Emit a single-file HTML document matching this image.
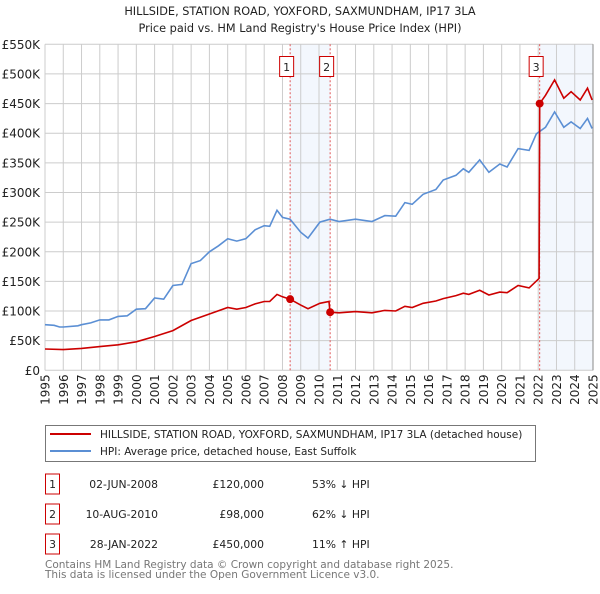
<!DOCTYPE html>
<html><head><meta charset="utf-8"><style>
body{margin:0;background:#fff;font-family:"DejaVu Sans","Liberation Sans",sans-serif;}
svg text{font-family:"DejaVu Sans","Liberation Sans",sans-serif;}
</style></head><body>
<svg id="c" width="600" height="590" xmlns="http://www.w3.org/2000/svg">
<text x="300" y="15" text-anchor="middle" font-size="11.3" fill="#222">HILLSIDE, STATION ROAD, YOXFORD, SAXMUNDHAM, IP17 3LA</text>
<text x="300" y="32" text-anchor="middle" font-size="11.3" fill="#222">Price paid vs. HM Land Registry's House Price Index (HPI)</text>
<g id="grid"></g>
<g id="marks"></g>
<g>
<rect x="45.5" y="425.5" width="490" height="36" fill="#fff" stroke="#777"/>
<line x1="50" y1="434" x2="91" y2="434" stroke="#cc0000" stroke-width="2"/>
<text x="100" y="438" font-size="10.5" fill="#222">HILLSIDE, STATION ROAD, YOXFORD, SAXMUNDHAM, IP17 3LA (detached house)</text>
<line x1="50" y1="451" x2="91" y2="451" stroke="#5b8fd4" stroke-width="2"/>
<text x="100" y="455" font-size="10.5" fill="#222">HPI: Average price, detached house, East Suffolk</text>
</g>
<g id="table" font-size="10.8" fill="#222"></g>
<text x="45" y="568" font-size="10.5" fill="#777">Contains HM Land Registry data © Crown copyright and database right 2025.</text>
<text x="45" y="578" font-size="10.5" fill="#777">This data is licensed under the Open Government Licence v3.0.</text>
</svg>
<script>
const hpiYears=[1995,1995.5,1995.8,1996,1996.8,1997,1997.5,1998,1998.5,1999,1999.5,2000,2000.5,2001,2001.5,2002,2002.5,2003,2003.5,2004,2004.5,2005,2005.5,2006,2006.5,2007,2007.3,2007.7,2008,2008.42,2009,2009.4,2010.05,2010.6,2011.1,2012,2012.9,2013.6,2014.2,2014.7,2015.1,2015.7,2016.4,2016.8,2017.5,2017.9,2018.2,2018.8,2019.3,2019.9,2020.3,2020.9,2021.5,2021.9,2022.4,2022.9,2023.4,2023.8,2024.3,2024.7,2024.95];
const hpiValues=[77,76,73,73,75,77,80,85,85,91,92,103,104,122,120,143,145,180,185,200,210,222,218,222,237,244,243,270,258,255,233,223,250,255,251,255,251,261,260,283,280,297,305,321,329,340,334,355,334,348,343,374,371,399,410,436,410,419,408,425,408];
const ppYears=[1995,1996,1997,1998,1999,2000,2001,2002,2003,2004,2005,2005.5,2006,2006.5,2007,2007.3,2007.7,2008,2008.42,2009,2009.4,2010.05,2010.55,2010.6,2011.1,2012,2012.9,2013.6,2014.2,2014.7,2015.1,2015.7,2016.4,2016.8,2017.5,2017.9,2018.2,2018.8,2019.3,2019.9,2020.3,2020.9,2021.5,2022.05,2022.08,2022.4,2022.9,2023.4,2023.8,2024.3,2024.7,2024.95];
const ppValues=[36,35,37,40,43,48,57,67,84,95,106,103,106,112,116,116,128,124,120,110,104,113,116,98,97,99,97,101,100,108,106,113,117,121,126,130,128,135,127,132,131,143,139,155,450,464,490,459,470,456,476,456];
const saleYears=[2008.42,2010.61,2022.08];
const saleValues=[120,98,450];
const saleLabels=["1","2","3"];
const saleDates=["02-JUN-2008","10-AUG-2010","28-JAN-2022"];
const salePrices=["£120,000","£98,000","£450,000"];
const saleDiffs=["53% ↓ HPI","62% ↓ HPI","11% ↑ HPI"];
const yTicks=[0,50,100,150,200,250,300,350,400,450,500,550];
const yTickLabels=["£0","£50K","£100K","£150K","£200K","£250K","£300K","£350K","£400K","£450K","£500K","£550K"];
const xTicks=[1995,1996,1997,1998,1999,2000,2001,2002,2003,2004,2005,2006,2007,2008,2009,2010,2011,2012,2013,2014,2015,2016,2017,2018,2019,2020,2021,2022,2023,2024,2025];

const X0=45,X1=593,Y0=370.3,Y1=44.3;
const sx=y=>X0+(y-1995)/30*(X1-X0);
const sy=v=>Y0-(v/550)*(Y0-Y1);
const NS="http://www.w3.org/2000/svg";
function mk(tag,attrs,parent){const e=document.createElementNS(NS,tag);for(const k in attrs)e.setAttribute(k,attrs[k]);parent.appendChild(e);return e;}
const grid=document.getElementById('grid'),marks=document.getElementById('marks'),table=document.getElementById('table');

let sh=mk('rect',{x:sx(saleYears[0]),y:Y1,width:sx(saleYears[1])-sx(saleYears[0]),height:Y0-Y1,fill:'#eef3fc',opacity:0.7},grid);


let sh2=mk('rect',{x:sx(saleYears[2]),y:Y1,width:X1-sx(saleYears[2]),height:Y0-Y1,fill:'#eef3fc',opacity:0.7},grid);



yTicks.forEach((v,i)=>{
  const l=mk('line',{x1:X0,x2:X1,y1:sy(v),y2:sy(v),stroke:'#ccc','stroke-width':1},grid);
  
  
  const t=mk('text',{x:X0-5,y:sy(v)+4.5,'text-anchor':'end','font-size':12,fill:'#222'},grid);
  t.textContent=yTickLabels[i];
  
  
});
xTicks.forEach(y=>{
  const l=mk('line',{x1:sx(y),x2:sx(y),y1:Y1,y2:Y0,stroke:'#ccc','stroke-width':1},grid);
  
  
  const t=mk('text',{x:0,y:0,'text-anchor':'end','font-size':12,fill:'#222',transform:`translate(${sx(y)+4.5},${Y0+4}) rotate(-90)`},grid);
  t.textContent=y;
  
  
});
const ax=mk('line',{x1:X1,x2:X1,y1:Y1,y2:Y0,stroke:'#888','stroke-width':1},grid);



saleYears.forEach((y,i)=>{
  const l=mk('line',{x1:sx(y),x2:sx(y),y1:Y1,y2:Y0,stroke:'#e05555','stroke-width':1,'stroke-dasharray':'2,2'},marks);
  
  
  const r=mk('rect',{x:sx(y)-10.5,y:56.5,width:14,height:20,fill:'#fff',stroke:'#cc0000'},marks);
  
  
  const t=mk('text',{x:sx(y)-3.5,y:71,'text-anchor':'middle','font-size':11,fill:'#222'},marks);
  t.textContent=saleLabels[i];
  
  
});

const hp=mk('path',{d:hpiYears.map((y,i)=>(i?'L':'M')+sx(y).toFixed(1)+','+sy(hpiValues[i]).toFixed(1)).join(''),fill:'none',stroke:'#5b8fd4','stroke-width':1.6},marks);


const pp=mk('path',{d:ppYears.map((y,i)=>(i?'L':'M')+sx(y).toFixed(1)+','+sy(ppValues[i]).toFixed(1)).join(''),fill:'none',stroke:'#cc0000','stroke-width':1.6},marks);


saleYears.forEach((y,i)=>{
  const c=mk('circle',{cx:sx(y),cy:sy(saleValues[i]),r:4,fill:'#cc0000'},marks);
  
  
});

saleLabels.forEach((lab,i)=>{
  const cy=484+i*30;
  const r=mk('rect',{x:45.5,y:cy-10,width:14,height:20,fill:'#fff',stroke:'#cc0000'},table);
  
  
  const texts=[[52.5,'middle',lab,'table-row-number'],[158,'end',saleDates[i],'table-row-date'],[264,'end',salePrices[i],'table-row-price'],[312,'start',saleDiffs[i],'table-row-hpi-diff']];
  texts.forEach(a=>{
    const t=mk('text',{x:a[0],y:cy+4,'text-anchor':a[1]},table);
    t.textContent=a[2];
    
    
  });
});
</script>
</body></html>
